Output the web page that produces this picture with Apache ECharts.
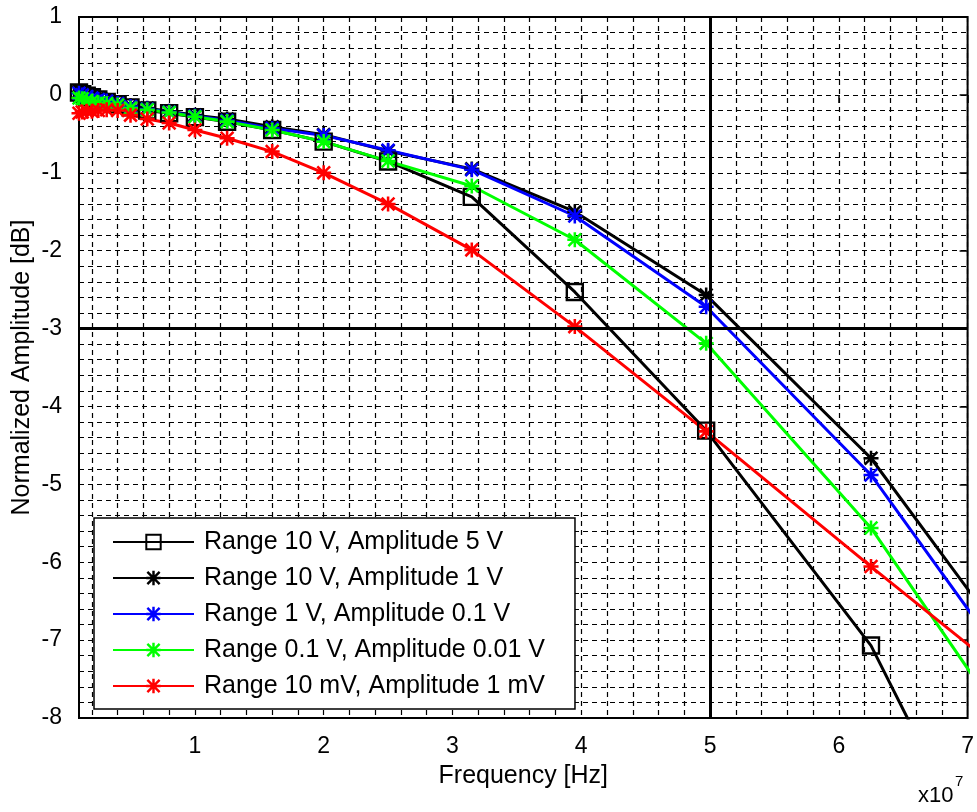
<!DOCTYPE html>
<html>
<head>
<meta charset="utf-8">
<script src="https://cdn.jsdelivr.net/npm/echarts@6/dist/echarts.min.js"></script>
<style>
html,body{margin:0;padding:0;background:#fff;}
#chart{width:977px;height:812px;}
</style>
</head>
<body>
<div id="chart"></div>
<script>
// Frequencies in MHz (x axis is in Hz)
const freqMHz = [1, 1.25, 1.6, 2, 2.5, 3.15, 4, 5, 6.3, 8, 10, 12.5, 16, 20, 25, 31.5, 39.5, 49.7, 62.5, 79];

const seriesNames = [
  'Range 10 V, Amplitude 5 V',
  'Range 10 V, Amplitude 1 V',
  'Range 1 V, Amplitude 0.1 V',
  'Range 0.1 V, Amplitude 0.01 V',
  'Range 10 mV, Amplitude 1 mV'
];

// Normalized amplitude [dB]
const r10v_a5v   = [0.03, 0.01, -0.01, -0.03, -0.06, -0.09, -0.12, -0.16, -0.20, -0.235, -0.285, -0.345, -0.45, -0.60, -0.855, -1.31, -2.53, -4.31, -7.07, -12.5];
const r10v_a1v   = [0.04, 0.02, 0.0, -0.02, -0.04, -0.07, -0.10, -0.14, -0.17, -0.21, -0.26, -0.31, -0.41, -0.51, -0.72, -0.95, -1.50, -2.57, -4.665, -8.36];
const r1v_a01v   = [0.02, 0.0, -0.02, -0.04, -0.06, -0.08, -0.11, -0.15, -0.18, -0.22, -0.27, -0.33, -0.43, -0.52, -0.71, -0.96, -1.555, -2.72, -4.88, -8.66];
const r01v_a001v = [-0.04, -0.05, -0.07, -0.086, -0.10, -0.11, -0.13, -0.17, -0.19, -0.227, -0.28, -0.343, -0.45, -0.60, -0.85, -1.17, -1.86, -3.19, -5.56, -9.53];
const r10mv_a1mv = [-0.235, -0.22, -0.21, -0.21, -0.20, -0.19, -0.20, -0.26, -0.31, -0.36, -0.45, -0.557, -0.728, -1.0, -1.40, -1.99, -2.975, -4.32, -6.056, -8.25];

const allValues = [r10v_a5v, r10v_a1v, r1v_a01v, r01v_a001v, r10mv_a1mv];
const colors = ['#000000', '#000000', '#0000ff', '#00ff00', '#ff0000'];

// Tick values
const xMajorTicks = [1e7, 2e7, 3e7, 4e7, 5e7, 6e7, 7e7];
const xMinorTicks = [];
for (let i = 1; i <= 35; i++) xMinorTicks.push(i * 2e6);
const yMajorTicks = [-8, -7, -6, -5, -4, -3, -2, -1, 0, 1];
const yMinorTicks = [];
for (let i = -39; i <= 4; i++) yMinorTicks.push(Math.round(i * 2) / 10);
const refFrequency = 5e7;
const refLevel = -3;

const asterisk = 'path://M8.3,0L11.7,0L11.7,20L8.3,20Z M0,8.3L20,8.3L20,11.7L0,11.7Z M2.7,0.3L19.7,17.3L17.3,19.7L0.3,2.7Z M19.7,2.7L2.7,19.7L0.3,17.3L17.3,0.3Z';

const FONT = 'Liberation Sans, Arial, Helvetica, sans-serif';

const chart = echarts.init(document.getElementById('chart'), null, {renderer: 'canvas'});

const series = allValues.map((vals, i) => {
  const s = {
    name: seriesNames[i],
    type: 'line',
    data: freqMHz.map((f, k) => [f * 1e6, vals[k]]),
    symbol: i === 0 ? 'rect' : asterisk,
    symbolSize: i === 0 ? 16 : 15,
    showSymbol: true,
    clip: true,
    animation: false,
    lineStyle: {color: colors[i], width: 3},
    itemStyle: i === 0
      ? {color: 'rgba(0,0,0,0)', borderColor: '#000', borderWidth: 2.4}
      : {color: colors[i], borderWidth: 0},
    emphasis: {disabled: true}
  };
  if (i === 0) {
    s.markLine = {
      silent: true,
      symbol: 'none',
      label: {show: false},
      lineStyle: {color: '#000', width: 3, type: 'solid'},
      data: [{xAxis: refFrequency}, {yAxis: refLevel}],
      animation: false
    };
  }
  return s;
});

const tickStyle = {color: '#000', width: 1.5};
const gridLine = {show: true, lineStyle: {color: '#000', width: 1.2, type: [5, 4]}};

const option = {
  backgroundColor: '#fff',
  animation: false,
  grid: {left: 79, top: 17, width: 889, height: 701, show: true, borderColor: '#000', borderWidth: 2, backgroundColor: 'transparent'},
  xAxis: [{
    type: 'value', min: 1e6, max: 7e7, position: 'bottom',
    name: 'Frequency [Hz]', nameLocation: 'middle', nameGap: 46,
    nameTextStyle: {fontFamily: FONT, fontSize: 25, color: '#000'},
    axisLine: {show: false},
    axisTick: {show: false, customValues: xMinorTicks},
    axisLabel: {customValues: xMajorTicks, formatter: v => String(Math.round(v / 1e7)), fontFamily: FONT, fontSize: 23, color: '#000', margin: 17},
    splitLine: gridLine
  }, {
    type: 'value', min: 1e6, max: 7e7, position: 'top',
    axisLine: {show: false},
    axisTick: {show: true, inside: true, length: 8, customValues: xMajorTicks, lineStyle: tickStyle},
    axisLabel: {show: false}, splitLine: {show: false}
  }, {
    type: 'value', min: 1e6, max: 7e7, position: 'top',
    axisLine: {show: false},
    axisTick: {show: true, inside: true, length: 8, customValues: xMajorTicks, lineStyle: tickStyle},
    axisLabel: {show: false}, splitLine: {show: false}
  }],
  yAxis: [{
    type: 'value', min: -8, max: 1, position: 'left',
    name: 'Normalized Amplitude [dB]', nameLocation: 'middle', nameGap: 44, nameMoveOverlap: false,
    nameTextStyle: {fontFamily: FONT, fontSize: 25, color: '#000'},
    axisLine: {show: false},
    axisTick: {show: false, customValues: yMinorTicks},
    axisLabel: {customValues: yMajorTicks, formatter: v => String(Math.round(v)), fontFamily: FONT, fontSize: 23, color: '#000', margin: 17},
    splitLine: gridLine
  }, {
    type: 'value', min: -8, max: 1, position: 'right',
    axisLine: {show: false},
    axisTick: {show: true, inside: true, length: 8, customValues: yMajorTicks, lineStyle: tickStyle},
    axisLabel: {show: false}, splitLine: {show: false}
  }, {
    type: 'value', min: -8, max: 1, position: 'right',
    axisLine: {show: false},
    axisTick: {show: true, inside: true, length: 8, customValues: yMajorTicks, lineStyle: tickStyle},
    axisLabel: {show: false}, splitLine: {show: false}
  }],
  legend: {
    orient: 'vertical',
    left: 94,
    top: 518,
    padding: [11.5, 30, 10.5, 18],
    itemGap: 11,
    itemWidth: 81,
    itemHeight: 18,
    backgroundColor: '#fff',
    borderColor: '#000',
    borderWidth: 1.5,
    borderRadius: 0,
    selectedMode: false,
    textStyle: {fontFamily: FONT, fontSize: 25, color: '#000', lineHeight: 25, padding: [0, 0, 0, 5]},
    data: seriesNames
  },
  graphic: [
    {type: 'text', left: 918, top: 785, style: {text: 'x10', font: '22px ' + FONT, fill: '#000'}},
    {type: 'text', left: 955, top: 774, style: {text: '7', font: '15px ' + FONT, fill: '#000'}}
  ],
  series: series
};

chart.setOption(option);
</script>
</body>
</html>
